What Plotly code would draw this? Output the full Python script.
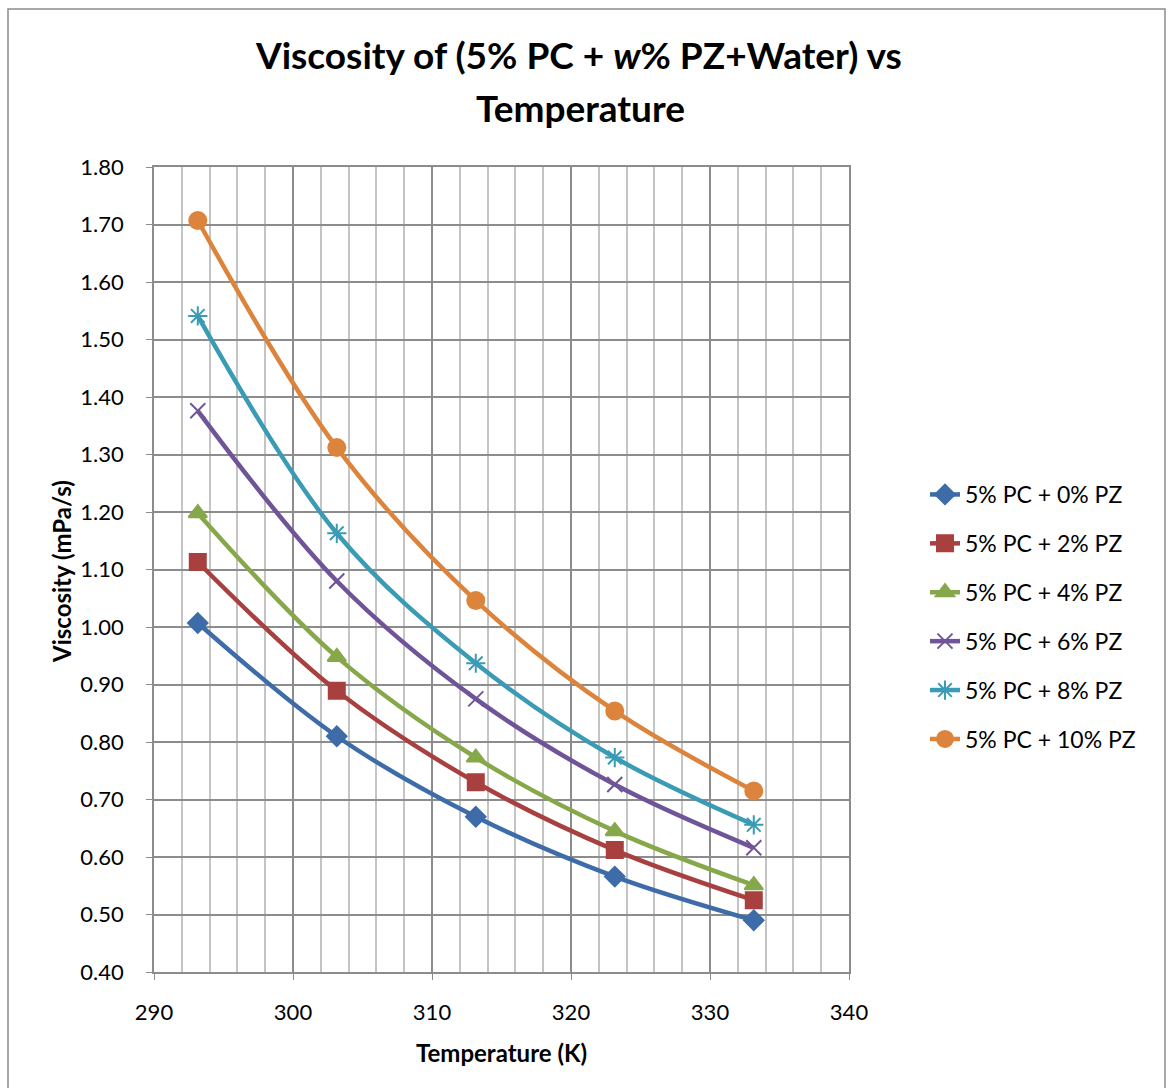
import plotly.graph_objects as go

temperature = [293.15, 303.15, 313.15, 323.15, 333.15]
pz_0 = [1.007, 0.810, 0.670, 0.566, 0.490]
pz_2 = [1.113, 0.889, 0.730, 0.612, 0.525]
pz_4 = [1.198, 0.948, 0.773, 0.645, 0.551]
pz_6 = [1.376, 1.080, 0.875, 0.726, 0.616]
pz_8 = [1.541, 1.163, 0.937, 0.773, 0.656]
pz_10 = [1.707, 1.312, 1.046, 0.854, 0.715]

series_names = ["5% PC + 0% PZ", "5% PC + 2% PZ", "5% PC + 4% PZ",
                "5% PC + 6% PZ", "5% PC + 8% PZ", "5% PC + 10% PZ"]
series_values = [pz_0, pz_2, pz_4, pz_6, pz_8, pz_10]
colors = ["#3D6CA8", "#A8403F", "#87A84A", "#6F5597", "#3A9BB5", "#DD843C"]
symbols = ["diamond", "square", "triangle-up", "x-thin-open", "asterisk-open", "circle"]
sizes = [15, 16, 16, 15, 16, 17]

FONT = "Lato, 'Open Sans', sans-serif"

# plot area in pixels
PL, PR, PT, PB = 154, 849, 167, 972
W, H = 1168, 1088


def px_x(px):
    return (px - PL) / (PR - PL)


def px_y(py):
    return (PB - py) / (PB - PT)


fig = go.Figure()
for i, (name, vals) in enumerate(zip(series_names, series_values)):
    fig.add_trace(go.Scatter(
        x=temperature, y=vals, name=name, mode="lines+markers",
        line=dict(color=colors[i], width=4.5, shape="spline", smoothing=1.0),
        marker=dict(symbol=symbols[i], size=sizes[i], color=colors[i],
                    line=dict(color=colors[i], width=2)),
        legendgroup=f"g{i}",
    ))

fig.update_layout(
    width=W, height=H,
    paper_bgcolor="white", plot_bgcolor="white",
    margin=dict(l=PL, r=W - PR, t=PT, b=H - PB),
    font=dict(family=FONT, size=22, color="black"),
    showlegend=True,
    legend=dict(x=px_x(925), y=px_y(617), xanchor="left", yanchor="middle",
                font=dict(family=FONT, size=23), tracegroupgap=16,
                bgcolor="rgba(0,0,0,0)"),
)

fig.update_xaxes(
    range=[290, 340], dtick=10, tick0=290,
    showgrid=True, gridcolor="#8c8c8c", gridwidth=1.5,
    minor=dict(dtick=2, showgrid=True, gridcolor="#c4c4c4", gridwidth=1.5),
    showline=True, linecolor="#8c8c8c", linewidth=1.5,
    ticks="outside", ticklen=6, tickcolor="#8c8c8c",
    zeroline=False, mirror=True, ticklabelstandoff=14,
    tickfont=dict(size=22),
)
fig.update_yaxes(
    range=[0.40, 1.80], dtick=0.1, tick0=0.4, tickformat=".2f",
    showgrid=True, gridcolor="#8c8c8c", gridwidth=1.5,
    showline=True, linecolor="#8c8c8c", linewidth=1.5,
    ticks="outside", ticklen=6, tickcolor="#8c8c8c",
    zeroline=False, mirror=True, ticklabelstandoff=18,
    tickfont=dict(size=22),
)

# title lines
fig.add_annotation(text="<b>Viscosity of (5% PC + <i>w</i>% PZ+Water) vs</b>",
                   xref="paper", yref="paper", x=px_x(578), y=px_y(55),
                   xanchor="center", yanchor="middle", showarrow=False,
                   font=dict(family=FONT, size=37, color="black"))
fig.add_annotation(text="<b>Temperature</b>",
                   xref="paper", yref="paper", x=px_x(580), y=px_y(107),
                   xanchor="center", yanchor="middle", showarrow=False,
                   font=dict(family=FONT, size=37, color="black"))
# axis titles
fig.add_annotation(text="<b>Temperature (K)</b>",
                   xref="paper", yref="paper", x=px_x(501), y=px_y(1052),
                   xanchor="center", yanchor="middle", showarrow=False,
                   font=dict(family=FONT, size=24, color="black"))
fig.add_annotation(text="<b>Viscosity (mPa/s)</b>", textangle=-90,
                   xref="paper", yref="paper", x=px_x(61), y=px_y(571),
                   xanchor="center", yanchor="middle", showarrow=False,
                   font=dict(family=FONT, size=24, color="black"))

fig.add_shape(type="rect", xref="paper", yref="paper",
              x0=px_x(8), x1=px_x(1165),
              y0=px_y(1100), y1=px_y(9),
              line=dict(color="#8c8c8c", width=1.5), layer="below")

fig.write_html("out.html")
